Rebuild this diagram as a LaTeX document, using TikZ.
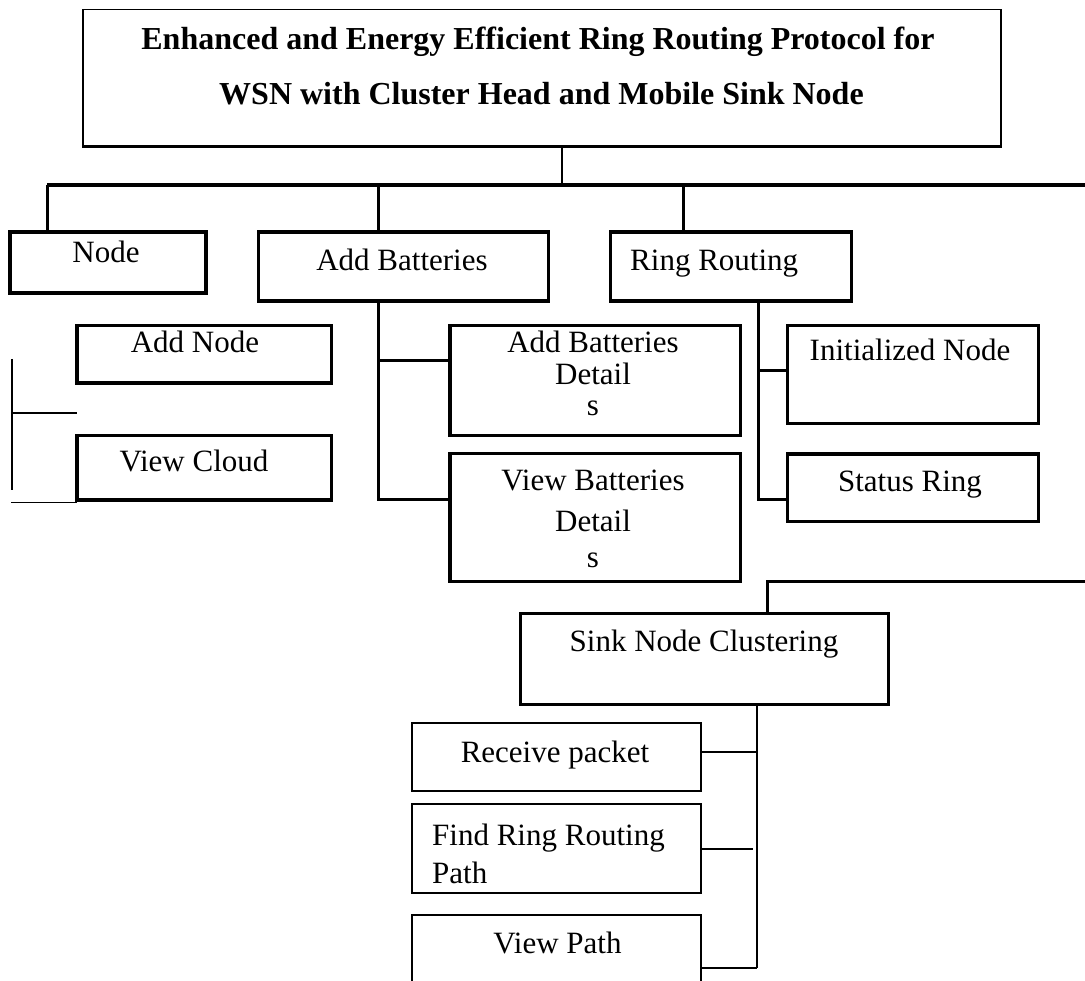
\documentclass[tikz,border=0pt]{standalone}
\usepackage{fontspec}
\setmainfont{Liberation Serif}
\newcommand\lblfont{\fontsize{31}{36}\selectfont}
\newcommand\ttlfont{\fontsize{32}{38}\selectfont\bfseries}
\begin{document}
\begin{tikzpicture}[x=1pt,y=-1pt,
  box/.style={draw, line width=3.3pt, anchor=north west, inner sep=0pt, outer sep=0pt},
  thinbox/.style={draw, line width=1.7pt, anchor=north west, inner sep=0pt, outer sep=0pt},
  lbl/.style={font=\lblfont, anchor=base, inner sep=0pt},
  lbll/.style={font=\lblfont, anchor=base west, inner sep=0pt},
  ttl/.style={font=\ttlfont, anchor=base, inner sep=0pt},
  bus/.style={line width=3.6pt},
  conn/.style={line width=3pt},
  thinc/.style={line width=2pt},
  hair/.style={line width=1.5pt}]
\useasboundingbox (0,0) rectangle (1085,981);
\clip (0,0) rectangle (1085,981);

% title
\node[anchor=north west, draw, line width=1.8pt, minimum width=918pt, minimum height=137.5pt, inner sep=0pt, outer sep=0pt] (title) at (83,9.5) {};
\draw[line width=3pt] (title.south west) -- (title.south east);
\node[ttl] (t1) at (538,50) {Enhanced and Energy Efficient Ring Routing Protocol for};
\node[ttl] (t2) at (541.5,105) {WSN with Cluster Head and Mobile Sink Node};

% boxes
\node[box, minimum width=196pt, minimum height=61pt] (nodeb) at (10,232) {};
\node[box, minimum width=290pt, minimum height=69pt] (addbat) at (258.6,232) {};
\node[box, minimum width=241pt, minimum height=69pt] (ring) at (610.6,232) {};
\node[box, minimum width=254.6pt, minimum height=57.3pt] (addnode) at (77,325.7) {};
\node[box, minimum width=254.6pt, minimum height=64.3pt] (viewcloud) at (77,435.7) {};
\node[box, minimum width=290.5pt, minimum height=110pt] (abd) at (450,325.7) {};
\node[box, minimum width=290.5pt, minimum height=128.2pt] (vbd) at (450,453.3) {};
\node[box, minimum width=251.3pt, minimum height=97.6pt] (init) at (787.5,325.7) {};
\node[box, minimum width=251.3pt, minimum height=67.7pt] (status) at (787.5,454) {};
\node[box, minimum width=368pt, minimum height=91pt] (sink) at (520.3,613.3) {};
\node[thinbox, minimum width=289pt, minimum height=68.3pt] (recv) at (412,722.7) {};
\node[thinbox, minimum width=289pt, minimum height=89pt] (find) at (412,804.3) {};
\node[thinbox, minimum width=289pt, minimum height=90pt] (vpath) at (412,915) {};

% labels
\node[lbl] (lnode) at (106,263) {Node};
\node[lbl] (laddbat) at (402,271) {Add Batteries};
\node[lbll] (lring) at (630,271) {Ring Routing};
\node[lbl] (laddnode) at (195,353) {Add Node};
\node[lbl] (lcloud) at (194,472) {View Cloud};
\node[lbl] (labd1) at (593,353) {Add Batteries};
\node[lbl] (labd2) at (593,385) {Detail};
\node[lbl] (labd3) at (593,416) {s};
\node[lbl] (lvbd1) at (593,491) {View Batteries};
\node[lbl] (lvbd2) at (593,531) {Detail};
\node[lbl] (lvbd3) at (593,567) {s};
\node[lbl] (linit) at (910,361) {Initialized Node};
\node[lbl] (lstatus) at (910,492) {Status Ring};
\node[lbl] (lsink) at (704,651) {Sink Node Clustering};
\node[lbl] (lrecv) at (555,762) {Receive packet};
\node[lbll] (lfind1) at (432,845) {Find Ring Routing};
\node[lbll] (lfind2) at (432,883) {Path};
\node[lbl] (lvpath) at (557.5,953) {View Path};

% coordinates
\coordinate (bl) at (47,185);
\coordinate (br) at (1085,185);
\coordinate (jt) at (562,185);
\coordinate (j2) at (378,185);
\coordinate (j3) at (683,185);
\coordinate (ab1) at (378,361);
\coordinate (ab2) at (378,500);
\coordinate (rr1) at (758,371);
\coordinate (rr2) at (758,500);
\coordinate (sk0) at (1085,581.7);
\coordinate (sk1) at (767.7,581.7);
\coordinate (sc1) at (757,751.7);
\coordinate (sc2) at (753,849);
\coordinate (sc3) at (757,968);
\coordinate (lv0) at (12,359);
\coordinate (lv1) at (12,490);
\coordinate (lh1) at (12,413);
\coordinate (lh2) at (11,502.7);

% connectors
\draw[bus] (bl) -- (br);
\draw[thinc] (jt |- title.south) -- (jt);
\draw[conn] (bl) -- (bl |- nodeb.north);
\draw[conn] (j2) -- (j2 |- addbat.north);
\draw[conn] (j3) -- (j3 |- ring.north);
\draw[conn] (ab1 |- addbat.south) -- (ab2) -- (vbd.west |- ab2);
\draw[conn] (ab1) -- (abd.west |- ab1);
\draw[conn] (rr1 |- ring.south) -- (rr2) -- (status.west |- rr2);
\draw[conn] (rr1) -- (init.west |- rr1);
\draw[conn] (sk0) -- (sk1) -- (sk1 |- sink.north);
\draw[thinc] (sc1 |- sink.south) -- (sc3);
\draw[thinc] (recv.east |- sc1) -- (sc1);
\draw[thinc] (find.east |- sc2) -- (sc2);
\draw[thinc] (vpath.east |- sc3) -- (sc3);
\draw[hair] (lv0) -- (lv1);
\draw[hair] (lh1) -- (addnode.west |- lh1);
\draw[hair] (lh2) -- (viewcloud.west |- lh2);
\end{tikzpicture}
\end{document}
